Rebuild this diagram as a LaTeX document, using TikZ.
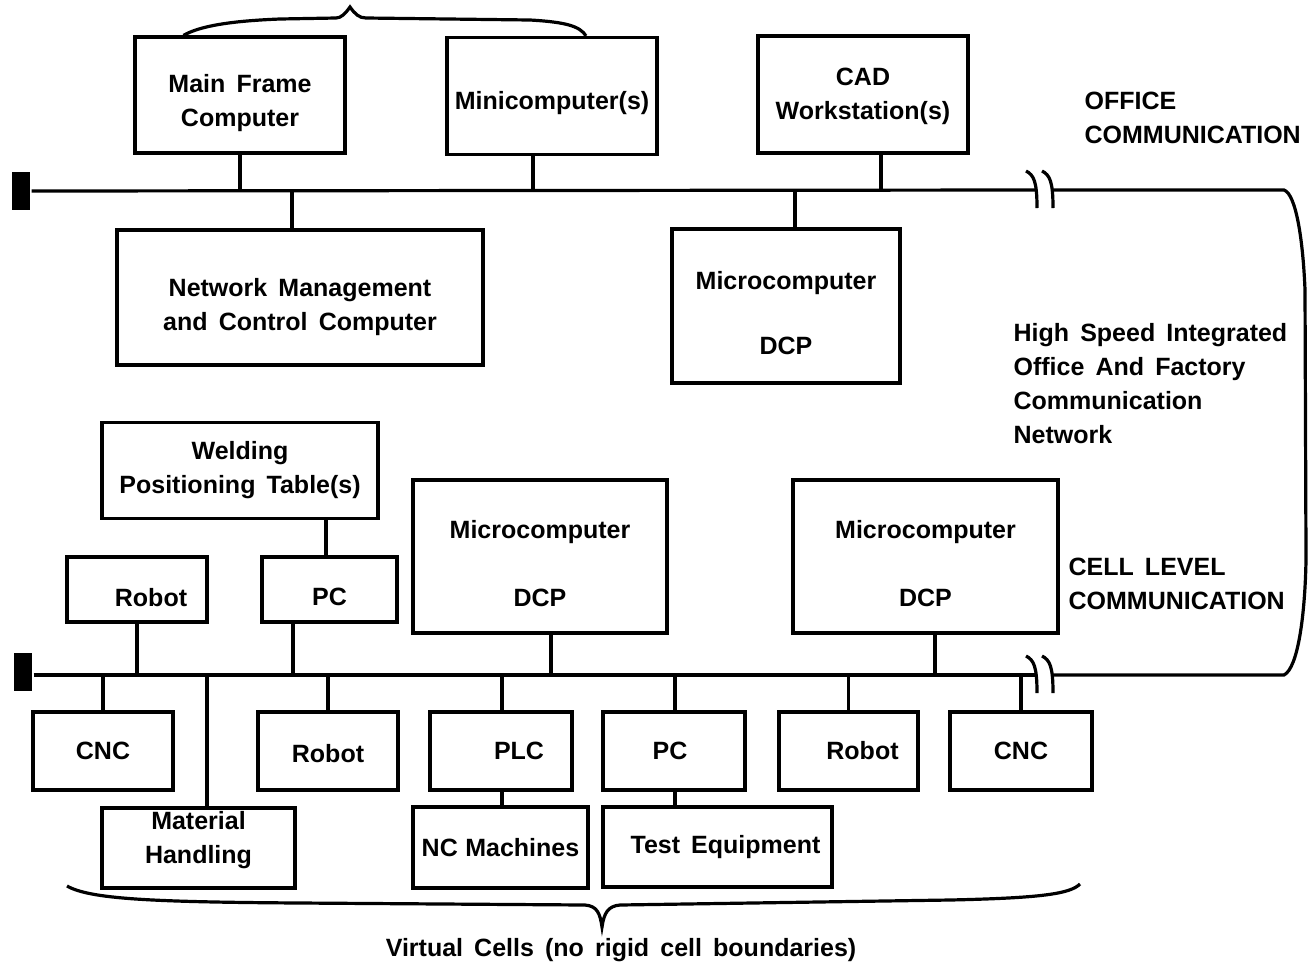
\documentclass[tikz,border=0pt]{standalone}
\usepackage{fontspec}
\setmainfont[WordSpace=1.6]{Liberation Sans}
\newcommand\labfont{\fontsize{25}{34}\selectfont\bfseries}
% push a line down (extra height) or up (extra depth) inside its box
\newcommand\lowr[2]{\raisebox{0pt}[\dimexpr\height+#1\relax][\depth]{#2}}
\newcommand\highr[2]{\raisebox{0pt}[\height][\dimexpr\depth+#1\relax]{#2}}
\begin{document}
\begin{tikzpicture}[x=1pt,y=-1pt,line width=3.2pt,
  box/.style args={#1/#2}{draw,rectangle,line width=3.2pt,minimum width=#1pt,minimum height=#2pt,inner sep=0pt,align=center,font=\labfont},
  term/.style={fill=black,draw=none,rectangle,minimum width=18pt,minimum height=38pt,inner sep=0pt},
  lbl/.style={align=left,font=\labfont,inner sep=0pt},
  wire/.style={line width=3.2pt}]
\useasboundingbox (0,0) rectangle (1308,967);

% terminators and bus anchors
\node[term] (term1) at (21,191) {};
\node[term] (term2) at (23,672) {};
\coordinate (tb1) at (1035,190);
\coordinate (tb2) at (1052,190);
\coordinate (tr1) at (1284,190);
\coordinate (bb1) at (1035,675);
\coordinate (bb2) at (1052,675);
\coordinate (br1) at (1284,675);

% top row
\node[box=210/116] (mf) at (240,95) {\lowr{16pt}{Main Frame}\\Computer};
\node[box=210/117] (mini) at (552,96) {\lowr{14pt}{Minicomputer(s)}};
\node[box=210/117] (cad) at (863,94.5) {\lowr{4pt}{CAD}\\Workstation(s)};
\node[box=366/135] (nmc) at (300,297.5) {\lowr{20pt}{Network Management}\\and Control Computer};
\node[box=228/154] (dcp1) at (786,306) {\lowr{14pt}{Microcomputer}\\[31pt]DCP};

% cell level upper
\node[box=276/96] (weld) at (240,470.5) {Welding\\Positioning Table(s)};
\node[box=140/65] (rob1) at (137,589.5) {\lowr{16pt}{\hspace*{28pt}Robot}};
\node[box=135/65] (pc1) at (329.5,589.5) {\lowr{14pt}{PC}};
\node[box=254/153] (dcp2) at (540,556.5) {\lowr{14pt}{Microcomputer}\\[34pt]DCP};
\node[box=265/153] (dcp3) at (925.5,556.5) {\lowr{14pt}{Microcomputer}\\[34pt]DCP};

% cell level lower
\node[box=140/78] (cnc1) at (103,751) {CNC};
\node[box=193/80] (mh) at (198.5,848) {Material\\\highr{16pt}{Handling}};
\node[box=140/78] (rob2) at (328,751) {\lowr{6pt}{Robot}};
\node[box=142/78] (plc) at (501,751) {\hspace*{36pt}PLC};
\node[box=175/81] (nc) at (500.5,847.5) {\spaceskip=0.3em NC Machines};
\node[box=142/78] (pc2) at (674,751) {PC\hspace*{8pt}};
\node[box=229/80] (te) at (717.5,847) {\hspace*{16pt}Test Equipment};
\node[box=139/78] (rob3) at (848.5,751) {\hspace*{28pt}Robot};
\node[box=142/78] (cnc2) at (1021,751) {CNC};

% text labels
\node[lbl,anchor=west] (office) at (1083,118) {OFFICE\\COMMUNICATION};
\node[lbl,anchor=west] (hs) at (1012,384) {High Speed Integrated\\Office And Factory\\Communication\\Network};
\node[lbl,anchor=west] (cell) at (1067,584) {CELL LEVEL\\COMMUNICATION};
\node[font=\labfont,inner sep=0pt] (virt) at (621,950) {Virtual Cells (no rigid cell boundaries)};

% buses
\draw[wire] (term1.east) -- (tb1);
\draw[wire] (tb2) -- (tr1) .. controls (1296,194) and (1303,240) .. (1305,290)
   -- (1306,560) .. controls (1305,615) and (1298,668) .. (br1) -- (bb2);
\draw[wire] (term2.east |- bb1) -- (bb1);
% break marks
\draw[wire] ([shift={(-9,-19)}]tb1) .. controls ([shift={(-1,-15)}]tb1) and ([shift={(2,-8)}]tb1) .. ([shift={(2,18)}]tb1);
\draw[wire] ([shift={(-10,-19)}]tb2) .. controls ([shift={(-2,-15)}]tb2) and ([shift={(1,-8)}]tb2) .. ([shift={(1,18)}]tb2);
\draw[wire] ([shift={(-9,-19)}]bb1) .. controls ([shift={(-1,-15)}]bb1) and ([shift={(2,-8)}]bb1) .. ([shift={(2,18)}]bb1);
\draw[wire] ([shift={(-10,-19)}]bb2) .. controls ([shift={(-2,-15)}]bb2) and ([shift={(1,-8)}]bb2) .. ([shift={(1,18)}]bb2);

% top connectors
\draw[wire] (mf.south) -- (mf.south |- tb1);
\draw[wire] ([xshift=-19pt]mini.south) -- ([xshift=-19pt]mini.south |- tb1);
\draw[wire] ([xshift=18pt]cad.south) -- ([xshift=18pt]cad.south |- tb1);
\draw[wire] ([xshift=-8pt]nmc.north) -- ([xshift=-8pt]nmc.north |- tb1);
\draw[wire] ([xshift=9pt]dcp1.north) -- ([xshift=9pt]dcp1.north |- tb1);

% cell connectors
\draw[wire] ([xshift=-3.5pt]pc1.north) -- ([xshift=-3.5pt]pc1.north |- weld.south);
\draw[wire] (rob1.south) -- (rob1.south |- bb1);
\draw[wire] ([xshift=-36.5pt]pc1.south) -- ([xshift=-36.5pt]pc1.south |- bb1);
\draw[wire] ([xshift=11pt]dcp2.south) -- ([xshift=11pt]dcp2.south |- bb1);
\draw[wire] ([xshift=9.5pt]dcp3.south) -- ([xshift=9.5pt]dcp3.south |- bb1);
\draw[wire] (cnc1.north) -- (cnc1.north |- bb1);
\draw[wire] ([xshift=8.5pt]mh.north) -- ([xshift=8.5pt]mh.north |- bb1);
\draw[wire] (rob2.north) -- (rob2.north |- bb1);
\draw[wire] ([xshift=1pt]plc.north) -- ([xshift=1pt]plc.north |- bb1);
\draw[wire] ([xshift=1pt]plc.south) -- ([xshift=1pt]plc.south |- nc.north);
\draw[wire] ([xshift=1pt]pc2.north) -- ([xshift=1pt]pc2.north |- bb1);
\draw[wire] ([xshift=1pt]pc2.south) -- ([xshift=1pt]pc2.south |- te.north);
\draw[wire] (rob3.north) -- (rob3.north |- bb1);
\draw[wire] (cnc2.north) -- (cnc2.north |- bb1);

% braces
\draw[wire] ([xshift=50pt]mf.north west) .. controls (200,26) and (230,21) .. (280,19) -- (336,18)
  .. controls (341,18) and (345,14) .. (350,7) .. controls (355,14) and (359,18) .. (366,18)
  -- (530,20) .. controls (565,22) and (580,26) .. ([xshift=34pt]mini.north);
\draw[wire] (67,886) .. controls (90,899) and (150,902) .. (300,903) -- (585,905)
  .. controls (597,906) and (600,913) .. (602,927) .. controls (604,913) and (608,906) .. (620,905)
  -- (950,900) .. controls (1040,898) and (1070,894) .. (1080,884);
\end{tikzpicture}
\end{document}
